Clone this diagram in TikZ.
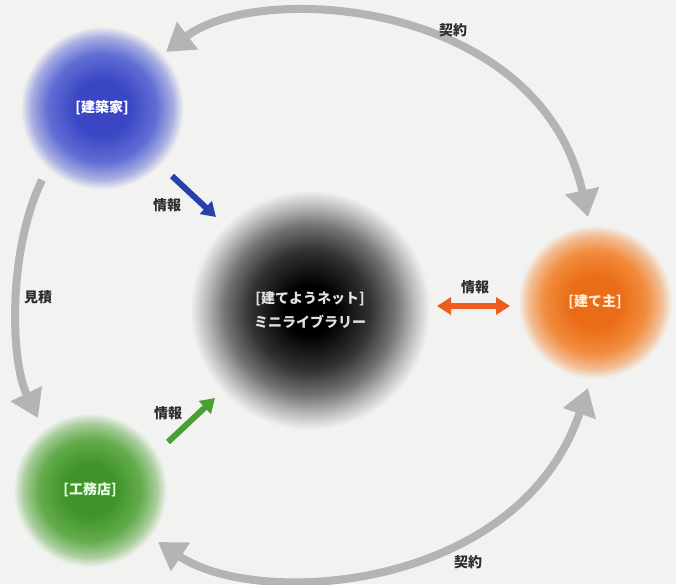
\documentclass[tikz,border=0pt]{standalone}
\usepackage{fontspec}
\setmainfont{Noto Sans CJK JP}
\usetikzlibrary{arrows.meta,calc}

\definecolor{bgc}{RGB}{242,242,240}
\definecolor{arcgray}{RGB}{180,180,180}
\definecolor{labelc}{RGB}{45,45,45}
\definecolor{archdeep}{RGB}{58,70,195}
\definecolor{archmid}{RGB}{98,110,212}
\colorlet{archedge}{archmid!50!bgc}
\definecolor{ownerdeep}{RGB}{234,108,22}
\definecolor{ownermid}{RGB}{242,140,62}
\colorlet{owneredge}{ownermid!50!bgc}
\definecolor{builderdeep}{RGB}{62,148,40}
\definecolor{buildermid}{RGB}{100,172,78}
\colorlet{builderedge}{buildermid!50!bgc}
\definecolor{libmid}{RGB}{50,50,50}
\definecolor{libedge}{RGB}{115,115,115}
\definecolor{liblight}{RGB}{190,190,190}
\definecolor{infoblue}{RGB}{40,64,170}
\definecolor{infogreen}{RGB}{72,160,50}
\definecolor{infoorange}{RGB}{236,92,30}

\pgfdeclareradialshading{archball}{\pgfpoint{0bp}{0bp}}{%
  color(0bp)=(archdeep); color(8bp)=(archdeep); color(16bp)=(archmid);
  color(21bp)=(archedge); color(24bp)=(bgc); color(50bp)=(bgc)}
\pgfdeclareradialshading{ownerball}{\pgfpoint{0bp}{0bp}}{%
  color(0bp)=(ownerdeep); color(8bp)=(ownerdeep); color(16bp)=(ownermid);
  color(21bp)=(owneredge); color(24bp)=(bgc); color(50bp)=(bgc)}
\pgfdeclareradialshading{builderball}{\pgfpoint{0bp}{0bp}}{%
  color(0bp)=(builderdeep); color(8bp)=(builderdeep); color(16bp)=(buildermid);
  color(21bp)=(builderedge); color(24bp)=(bgc); color(50bp)=(bgc)}
\pgfdeclareradialshading{libball}{\pgfpoint{0bp}{0bp}}{%
  color(0bp)=(black); color(5bp)=(black); color(12bp)=(libmid);
  color(17bp)=(libedge); color(21bp)=(liblight); color(24bp)=(bgc); color(50bp)=(bgc)}

\begin{document}
\begin{tikzpicture}[x=1pt,y=-1pt,
    ball/.style={circle, shade, inner sep=0pt, align=center,
      font=\fontsize{14}{24}\selectfont\bfseries},
    contract/.style={arcgray, line width=8pt, >={Triangle[length=27pt,width=33pt]}},
    info/.style={line width=6pt, >={Triangle[length=14pt,width=17pt]}},
    tag/.style={font=\fontsize{14}{16}\selectfont\bfseries, text=labelc}]

\path[fill=bgc, use as bounding box] (0,0) rectangle (676,584);

% the four parties
\node[ball, minimum size=170pt, shading=archball, text=white] (arch) at (102,108) {[建築家]};
\node[ball, minimum size=250pt, shading=libball, text=black!12] (lib) at (310,310) {[建てようネット]\\ミニライブラリー};
\node[ball, minimum size=160pt, shading=ownerball, text=orange!15] (owner) at (595,302) {[建て主]};
\node[ball, minimum size=160pt, shading=builderball, text=green!10] (builder) at (90,490) {[工務店]};

% contracts and estimate
\draw[contract, <->] ($(arch)+(64,-56)$) .. controls (260,-20) and (540,0) .. ($(owner)+(-7,-85)$);
\draw[contract, <->] ($(builder)+(68,52)$) .. controls (260,610) and (520,590) .. ($(owner)+(-7,86)$);
\draw[contract, ->] ($(arch)+(-60,72)$) .. controls (8,250) and (10,360) .. ($(builder)+(-52,-72)$);

% information flows
\draw[info, infoblue, ->] ($(arch)+(70,68)$) -- ($(lib)+(-94,-93)$);
\draw[info, infogreen, ->] ($(builder)+(78,-48)$) -- ($(lib)+(-95,88)$);
\draw[info, infoorange, <->] ($(lib)+(127,-4)$) -- ($(owner)+(-85,4)$);

\node[tag] (contracttop) at (453,30) {契約};
\node[tag] (contractbot) at (468,562) {契約};
\node[tag] (estimate) at (38,297) {見積};
\node[tag] (infoarch) at (167,205) {情報};
\node[tag] (infobuilder) at (168,413) {情報};
\node[tag] (infoowner) at (475,287) {情報};
\end{tikzpicture}
\end{document}
